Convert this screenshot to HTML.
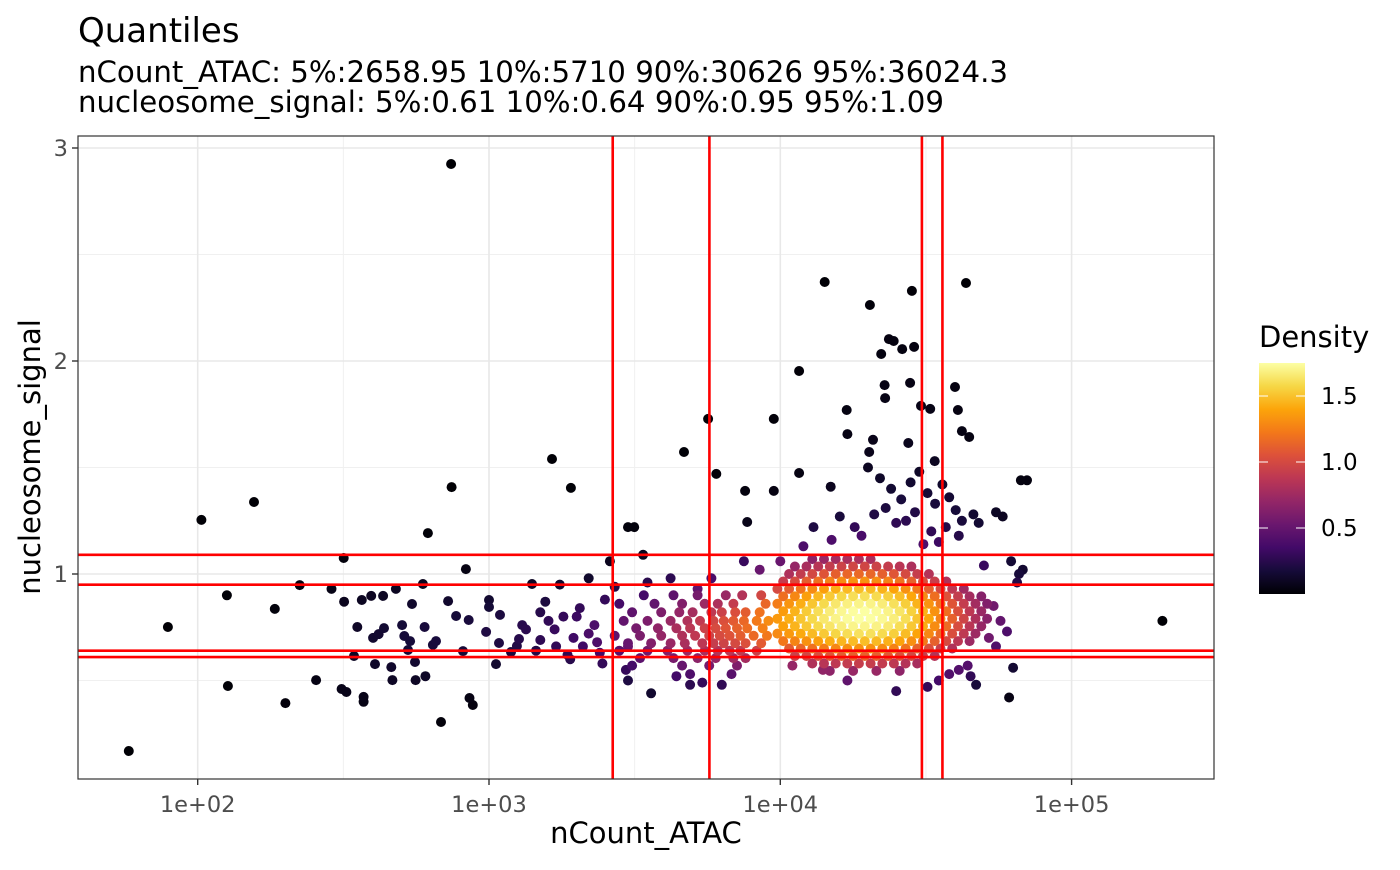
<!DOCTYPE html>
<html><head><meta charset="utf-8"><style>
html,body{margin:0;padding:0;background:#fff;}
svg text{font-family:"DejaVu Sans","Liberation Sans",sans-serif;}
</style></head><body>
<svg id="chart" width="1400" height="865" viewBox="0 0 1400 865" xmlns="http://www.w3.org/2000/svg">
<text x="78" y="42" font-size="34" fill="#000">Quantiles</text>
<text x="78" y="82" font-size="29" textLength="930" lengthAdjust="spacingAndGlyphs" fill="#000">nCount_ATAC: 5%:2658.95 10%:5710 90%:30626 95%:36024.3</text>
<text x="78" y="112" font-size="29" textLength="866" lengthAdjust="spacingAndGlyphs" fill="#000">nucleosome_signal: 5%:0.61 10%:0.64 90%:0.95 95%:1.09</text>
<g id="grid"></g>
<g id="points"></g>
<g id="qlines"></g>
<rect x="78" y="136" width="1136" height="643" fill="none" stroke="#333" stroke-width="1.2"/>
<g id="axes"></g>
<text x="646" y="843" font-size="29" text-anchor="middle" fill="#000">nCount_ATAC</text>
<text transform="translate(40,457) rotate(-90)" font-size="29" text-anchor="middle" fill="#000">nucleosome_signal</text>
<g id="legend">
<text x="1259" y="347" font-size="29" fill="#000">Density</text>
</g>
</svg>
<script>
const xTicks=[100,1000,10000,100000];
const xTickLabels=["1e+02","1e+03","1e+04","1e+05"];
const yTicks=[1,2,3];
const yTickLabels=["1","2","3"];
const countQuantiles=[2658.95,5710,30626,36024.3];
const signalQuantiles=[0.61,0.64,0.95,1.09];
const legendTicks=[0.5,1.0,1.5];
const legendTickLabels=["0.5","1.0","1.5"];
const densityMax=1.75;
// dense core rows: signal value and nCount values
const coreRows=[
{s:1.07,c:[12880,14130,15490,16980,18620,20420]},
{s:1.035,c:[11220,12300,13490,14790,16220,17780,19500,21380,23440,25700,28180]},
{s:1.0,c:[10720,11750,12880,14130,15490,16980,18620,20420,22390,24550,26920,29510,32360]},
{s:0.965,c:[10230,11220,12300,13490,14790,16220,17780,19500,21380,23440,25700,28180,30900,33880,37150]},
{s:0.93,c:[9772,10720,11750,12880,14130,15490,16980,18620,20420,22390,24550,26920,29510,32360,35480,38900,42660]},
{s:0.895,c:[10230,11220,12300,13490,14790,16220,17780,19500,21380,23440,25700,28180,30900,33880,37150,40740,44670,48980]},
{s:0.86,c:[9772,10720,11750,12880,14130,15490,16980,18620,20420,22390,24550,26920,29510,32360,35480,38900,42660,46770,51290]},
{s:0.825,c:[10230,11220,12300,13490,14790,16220,17780,19500,21380,23440,25700,28180,30900,33880,37150,40740,44670,48980]},
{s:0.79,c:[9772,10720,11750,12880,14130,15490,16980,18620,20420,22390,24550,26920,29510,32360,35480,38900,42660,46770,51290]},
{s:0.755,c:[10230,11220,12300,13490,14790,16220,17780,19500,21380,23440,25700,28180,30900,33880,37150,40740,44670,48980]},
{s:0.72,c:[9772,10720,11750,12880,14130,15490,16980,18620,20420,22390,24550,26920,29510,32360,35480,38900,42660,46770]},
{s:0.685,c:[10230,11220,12300,13490,14790,16220,17780,19500,21380,23440,25700,28180,30900,33880,37150,40740,44670]},
{s:0.65,c:[10720,11750,12880,14130,15490,16980,18620,20420,22390,24550,26920,29510,32360,35480,38900]},
{s:0.615,c:[11220,12300,13490,14790,16220,17780,19500,21380,23440,25700,28180,30900,33880]},
{s:0.58,c:[12880,14130,15490,16980,18620,20420,22390,24550,26920,29510]},
{s:0.545,c:[14790,17780,21380,25700]}
];
// transition region rows
const midRows=[
{s:0.90,c:[3400,4300,5200,6500,7400,8600]},
{s:0.86,c:[2800,3700,4600,5500,6100,6900,8900]},
{s:0.82,c:[3100,3900,4500,5000,5800,6300,7000,7600,8500]},
{s:0.78,c:[2900,3500,4200,4800,5300,5900,6400,6900,7500,8300,9100]},
{s:0.745,c:[3200,3800,4400,4900,5500,6000,6500,7100,7700,8700]},
{s:0.71,c:[2700,3300,3900,4600,5100,5700,6200,6700,7300,8100,9000]},
{s:0.675,c:[3000,3600,4200,4700,5400,5900,6400,7000,7600,8600]},
{s:0.64,c:[2800,3500,4100,4800,5500,6100,6700,7300,8300]},
{s:0.605,c:[3300,4300,5200,6000,6900,7600]},
{s:0.57,c:[3100,4600,5700,7100]},
{s:0.53,c:[4900,6800]}
];
// sparse individual cells [nCount, nucleosome_signal]
const sparseCells=[
[58,0.169],[79,0.751],[103,1.254],[126,0.90],[127,0.474],[156,1.338],[184,0.836],[200,0.394],[224,0.948],[255,0.502],
[288,0.93],[312,0.46],[317,1.075],[318,0.87],[324,0.446],[344,0.615],[353,0.751],[366,0.878],[371,0.423],[371,0.40],
[394,0.897],[400,0.70],[406,0.577],[418,0.718],[433,0.897],[436,0.746],[462,0.563],[466,0.502],[479,0.93],[503,0.76],
[512,0.709],[527,0.643],[536,0.685],[544,0.859],[557,0.587],[560,0.502],[593,0.953],[601,0.751],[605,0.52],[617,1.192],
[642,0.667],[658,0.685],[684,0.305],[724,0.873],[741,2.925],[744,1.408],[771,0.803],[814,0.638],[833,1.023],[852,0.784],
[857,0.418],[880,0.385],[977,0.728],[1000,0.878],[1000,0.845],[1057,0.577],[1082,0.676],[1091,0.808],[1190,0.634],[1247,0.662],
[1268,0.695],[1340,0.74],[1405,0.953],[1450,0.64],[1500,0.82],[1560,0.87],[1645,1.54],[1680,0.74],[1750,0.95],[1800,0.80],
[1860,0.62],[1911,1.404],[1950,0.70],[2050,0.84],[2100,0.66],[2200,0.98],[2300,0.76],[2400,0.63],[2500,0.88],[2600,1.06],
[2450,0.58],[2200,0.72],[1900,0.60],[1700,0.66],[1500,0.69],[1300,0.76],[2000,0.80],[2350,0.68],[1600,0.78],[2700,0.94],
[3000,1.22],[3150,1.22],[3380,1.09],[3000,0.50],[3600,0.44],[3000,0.66],[2950,0.55],[4670,1.573],[5650,1.728],[6030,1.47],
[5800,0.98],[4200,0.98],[3500,0.96],[4900,0.48],[5400,0.49],[6300,0.48],[4400,0.52],[5200,0.93],[7500,1.06],[7700,1.244],
[7570,1.39],[9500,1.728],[9500,1.39],[11600,1.953],[11600,1.474],[14200,2.371],[14900,1.41],[16900,1.77],[17000,1.657],[20300,2.263],
[20200,1.573],[20800,1.63],[22200,2.033],[22800,1.887],[22900,1.826],[23600,2.103],[24500,2.094],[26200,2.056],[27500,1.615],[27900,1.897],
[28300,2.329],[28800,2.066],[30400,1.789],[32700,1.775],[33900,1.53],[39800,1.878],[40700,1.77],[43400,2.366],[44500,1.643],[42000,1.671],
[20000,1.50],[22000,1.45],[24000,1.40],[26000,1.35],[28000,1.43],[30000,1.48],[32000,1.38],[34000,1.33],[36000,1.42],[38000,1.36],
[40000,1.30],[42000,1.25],[16000,1.27],[18000,1.22],[21000,1.28],[25000,1.24],[29000,1.29],[33000,1.20],[37000,1.22],[41000,1.18],
[13000,1.22],[15000,1.16],[19000,1.18],[23000,1.31],[27000,1.25],[31000,1.14],[35000,1.15],[12000,1.13],[46000,1.28],[50000,1.04],
[48000,1.24],[55000,1.29],[58000,1.27],[62000,1.06],[63000,0.56],[67000,1.44],[70300,1.44],[66000,1.00],[68000,1.02],[65000,0.96],
[205000,0.78],[61000,0.42],[55000,0.66],[52000,0.70],[54000,0.85],[57000,0.78],[60000,0.73],[47000,0.48],[45000,0.52],[44000,0.57],
[41000,0.55],[38000,0.53],[35000,0.50],[32000,0.47],[25000,0.45],[17000,0.50],[14000,0.55],[11000,0.57],[10000,1.06],[8500,1.02]
];
const X0=489,XD=291.3,Y0=787,YU=213;
function xScale(v){return X0+(Math.log10(v)-3)*XD;}
function yScale(v){return Y0-v*YU;}
const NS="http://www.w3.org/2000/svg";
function mk(tag,attrs,parent){const e=document.createElementNS(NS,tag);for(const k in attrs)e.setAttribute(k,attrs[k]);parent.appendChild(e);return e;}
const grid=document.getElementById('grid');
mk('rect',{x:78,y:136,width:1136,height:643,fill:'#fff'},grid);
for(let i=0;i<xTicks.length-1;i++){const m=(xScale(xTicks[i])+xScale(xTicks[i+1]))/2;
 const l=mk('line',{x1:m,x2:m,y1:136,y2:779,stroke:'#f0f0f0','stroke-width':1},grid);
 
 }
for(let i=0;i<yTicks.length-1;i++){const m=(yScale(yTicks[i])+yScale(yTicks[i+1]))/2;
 const l=mk('line',{x1:78,x2:1214,y1:m,y2:m,stroke:'#f0f0f0','stroke-width':1},grid);
 
 }
{const m=yScale(yTicks[0]-0.5);const l=mk('line',{x1:78,x2:1214,y1:m,y2:m,stroke:'#f0f0f0','stroke-width':1},grid);
 
 }
xTicks.forEach(t=>{const x=xScale(t);const l=mk('line',{x1:x,x2:x,y1:136,y2:779,stroke:'#e8e8e8','stroke-width':1.6},grid);
 
 });
yTicks.forEach(t=>{const y=yScale(t);const l=mk('line',{x1:78,x2:1214,y1:y,y2:y,stroke:'#e8e8e8','stroke-width':1.6},grid);
 
 });
const pts=[];
coreRows.forEach(r=>r.c.forEach(c=>pts.push([c,r.s])));
midRows.forEach(r=>r.c.forEach(c=>pts.push([c,r.s])));
sparseCells.forEach(p=>pts.push([p[0],p[1]]));
const pp=pts.map(p=>({x:xScale(p[0]),y:yScale(p[1])}));
pp.forEach(a=>{let d=0;pp.forEach(b=>{const dx=(a.x-b.x)/55,dy=(a.y-b.y)/30;d+=Math.exp(-0.5*(dx*dx+dy*dy));});a.d=d;});
const dmax=Math.max(...pp.map(p=>p.d));
const inferno=["#000004","#160b39","#420a68","#6a176e","#932667","#bc3754","#dd513a","#f37819","#fca50a","#f6d746","#fcffa4"];
function hex(h){return [parseInt(h.slice(1,3),16),parseInt(h.slice(3,5),16),parseInt(h.slice(5,7),16)];}
function col(t){t=Math.max(0,Math.min(1,t));const f=t*10,i=Math.min(9,Math.floor(f)),r=f-i;const a=hex(inferno[i]),b=hex(inferno[i+1]);
 return 'rgb('+a.map((v,k)=>Math.round(v+(b[k]-v)*r)).join(',')+')';}
pp.sort((a,b)=>a.d-b.d);
const pg=document.getElementById('points');
pp.forEach(p=>{let t=p.d/dmax;t=Math.pow(t,1.4);
 const c=mk('circle',{cx:p.x.toFixed(1),cy:p.y.toFixed(1),r:5,fill:col(t)},pg);
 
 });
const ql=document.getElementById('qlines');
countQuantiles.forEach(q=>{const x=xScale(q);const l=mk('line',{x1:x,x2:x,y1:136,y2:779,stroke:'#ff0000','stroke-width':2.6},ql);
 
 });
signalQuantiles.forEach(q=>{const y=yScale(q);const l=mk('line',{x1:78,x2:1214,y1:y,y2:y,stroke:'#ff0000','stroke-width':2.6},ql);
 
 });
const ax=document.getElementById('axes');
xTicks.forEach((t,i)=>{const x=xScale(t);
 const tk=mk('line',{x1:x,x2:x,y1:779,y2:785,stroke:'#333','stroke-width':1.4},ax);
 
 
 const tx=mk('text',{x:x,y:812,'font-size':22.5,'text-anchor':'middle',fill:'#4d4d4d'},ax);tx.textContent=xTickLabels[i];
 
 });
yTicks.forEach((t,i)=>{const y=yScale(t);
 const tk=mk('line',{x1:72,x2:78,y1:y,y2:y,stroke:'#333','stroke-width':1.4},ax);
 
 
 const tx=mk('text',{x:68,y:y+8,'font-size':22.5,'text-anchor':'end',fill:'#4d4d4d'},ax);tx.textContent=yTickLabels[i];
 
 });
const lg=document.getElementById('legend');
const defs=mk('defs',{},lg);const gr=mk('linearGradient',{id:'cbar',x1:0,y1:1,x2:0,y2:0},defs);
inferno.forEach((c,i)=>mk('stop',{offset:(i/10),'stop-color':c},gr));
const LB=594,LT=363;function lScale(v){return LB-(v/densityMax)*(LB-LT);}
const bar=mk('rect',{x:1259,y:LT,width:46,height:LB-LT,fill:'url(#cbar)'},lg);


legendTicks.forEach((t,i)=>{const y=lScale(t);
 mk('line',{x1:1259,x2:1268,y1:y,y2:y,stroke:'#fff','stroke-width':1},lg);
 mk('line',{x1:1296,x2:1305,y1:y,y2:y,stroke:'#fff','stroke-width':1},lg);
 const tx=mk('text',{x:1321,y:y+8,'font-size':23,fill:'#000'},lg);tx.textContent=legendTickLabels[i];
 
 });
</script>
</body></html>
